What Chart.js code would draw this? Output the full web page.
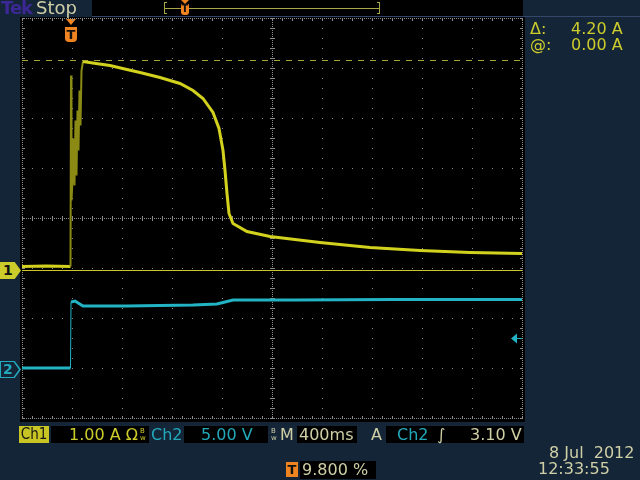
<!DOCTYPE html>
<html>
<head>
<meta charset="utf-8">
<script src="https://cdn.jsdelivr.net/npm/chart.js@4.4.0/dist/chart.umd.min.js"></script>
<style>
  html, body { margin: 0; padding: 0; background: #152538; }
  #scope { position: relative; width: 640px; height: 480px; overflow: hidden; background: #152538;
           font-family: "DejaVu Sans", sans-serif; }
  #scope canvas { position: absolute; left: 0; top: 0; }
  .t { position: absolute; white-space: nowrap; line-height: 1; }
  .box { position: absolute; background: #000; }
  .yel { color: #cccc2a; }
  .cya { color: #22aabb; }
  .kha { color: #cfcfa6; }
</style>
</head>
<body>
<div id="scope">
  <canvas id="grafico" width="640" height="480"></canvas>

  <!-- barra de cima -->
  <div class="t" style="left:1px;top:-1px;font-size:18px;font-weight:bold;color:#3b2894;letter-spacing:-1px;">Tek</div>
  <div class="t kha" style="left:36px;top:-1px;font-size:18px;">Stop</div>
  <div class="t" style="left:181px;top:4px;width:8px;height:11px;background:#f08420;color:#111;font-size:10px;font-weight:bold;text-align:center;border-radius:0 0 3px 3px;">T</div>

  <!-- marcador de trigger -->
  <div class="t" style="left:65px;top:27px;width:12px;height:15px;background:#f08420;color:#111;font-size:13px;font-weight:bold;text-align:center;line-height:15px;border-radius:0 0 4px 4px;">T</div>

  <!-- cursores -->
  <div class="t yel" style="left:530px;top:21px;font-size:16px;">Δ:</div>
  <div class="t yel" style="left:571px;top:21px;font-size:16px;">4.20 A</div>
  <div class="t yel" style="left:530px;top:37px;font-size:16px;">@:</div>
  <div class="t yel" style="left:571px;top:37px;font-size:16px;">0.00 A</div>

  <!-- marcadores de canal -->
  <div class="t" style="left:0px;top:262px;width:21px;height:17px;background:#cccc2a;clip-path:polygon(0 0,70% 0,100% 50%,70% 100%,0 100%);color:#111;font-size:14px;font-weight:bold;line-height:17px;padding-left:3px;box-sizing:border-box;">1</div>
  <div class="t" style="left:0px;top:361px;width:21px;height:17px;background:#22aabb;clip-path:polygon(0 0,70% 0,100% 50%,70% 100%,0 100%);"></div>
  <div class="t" style="left:1px;top:362px;width:18px;height:15px;background:#152538;clip-path:polygon(0 0,70% 0,100% 50%,70% 100%,0 100%);"></div>
  <div class="t cya" style="left:3px;top:362px;font-size:14px;font-weight:bold;line-height:15px;">2</div>

  <!-- barra de baixo -->
  <div class="t" style="left:19px;top:426px;width:30px;height:17px;background:#c8c424;color:#151515;font-size:15px;line-height:17px;text-align:center;font-family:'DejaVu Sans Condensed','DejaVu Sans',sans-serif;">Ch1</div>
  <div class="box" style="left:51px;top:426px;width:98px;height:17px;"></div>
  <div class="t yel" style="left:69px;top:427px;font-size:16px;">1.00 A Ω</div>
  <div class="t yel" style="left:140px;top:428px;font-size:7px;line-height:7px;">B<br>w</div>
  <div class="t cya" style="left:151px;top:427px;font-size:16px;">Ch2</div>
  <div class="box" style="left:184px;top:426px;width:84px;height:17px;"></div>
  <div class="t cya" style="left:201px;top:427px;font-size:16px;">5.00 V</div>
  <div class="t kha" style="left:271px;top:428px;font-size:7px;line-height:7px;">B<br>w</div>
  <div class="t kha" style="left:280px;top:427px;font-size:16px;">M</div>
  <div class="box" style="left:297px;top:426px;width:60px;height:17px;"></div>
  <div class="t kha" style="left:299px;top:427px;font-size:16px;">400ms</div>
  <div class="t kha" style="left:371px;top:427px;font-size:16px;">A</div>
  <div class="box" style="left:386px;top:426px;width:138px;height:17px;"></div>
  <div class="t cya" style="left:397px;top:427px;font-size:16px;">Ch2</div>
  <div class="t kha" style="left:437px;top:427px;font-size:16px;">∫</div>
  <div class="t kha" style="left:470px;top:427px;font-size:16px;">3.10 V</div>

  <div class="t kha" style="left:549px;top:445px;font-size:16px;">8 Jul&nbsp;&nbsp;2012</div>
  <div class="t kha" style="left:538px;top:461px;font-size:16px;">12:33:55</div>

  <div class="t" style="left:286px;top:462px;width:12px;height:15px;background:#f08420;color:#111;font-size:13px;font-weight:bold;text-align:center;line-height:15px;">T</div>
  <div class="box" style="left:300px;top:461px;width:76px;height:18px;"></div>
  <div class="t kha" style="left:302px;top:462px;font-size:16px;">9.800 %</div>
</div>

<script>
// Canal 1 (corrente, A) - tempo em segundos relativo ao trigger
const ch1Tempo = [-0.392, -0.20, -0.004, 0, 0.004, 0.012, 0.02, 0.028, 0.036, 0.044, 0.052, 0.06, 0.068, 0.076, 0.084,
                  0.096, 0.20, 0.312, 0.43, 0.552, 0.712, 0.872, 0.976, 1.056, 1.136, 1.184, 1.216, 1.232,
                  1.248, 1.264, 1.296, 1.408, 1.592, 1.992, 2.392, 2.792, 3.192, 3.608];
const ch1Amps  = [0.08, 0.09, 0.08, 3.9, 1.4, 1.8, 2.64, 1.7, 3.0, 1.9, 3.2, 2.4, 3.6, 2.9, 4.0,
                  4.18, 4.14, 4.10, 4.03, 3.96, 3.86, 3.74, 3.60, 3.44, 3.16, 2.84, 2.40, 2.00,
                  1.54, 1.14, 0.94, 0.78, 0.68, 0.56, 0.46, 0.40, 0.36, 0.34];

// Canal 2 (tensão, V)
const ch2Tempo = [-0.392, -0.004, 0, 0.032, 0.096, 0.448, 0.976, 1.168, 1.232, 1.296, 1.776, 2.576, 3.608];
const ch2Volts = [0.1, 0.1, 6.7, 6.8, 6.3, 6.3, 6.4, 6.5, 6.7, 6.9, 6.9, 6.95, 6.95];

// escalas (10 x 8 divisões)
const tempoMin = -0.392, tempoMax = 3.608;   // 400 ms/div, trigger em 9.8 %
const ch1Min = -2.95, ch1Max = 5.05;          // 1.00 A/div
const ch2Min = -4.9, ch2Max = 35.1;           // 5.00 V/div
const cursores = [4.20, 0.00];                // A
const nivelTrigger = 3.10;                    // V, Ch2

const AMARELO = '#d2d21e';
const OLIVA = '#8a8a14';
const CIANO = '#22b4c4';

const fundo = {
    id: 'fundo',
    beforeDraw(chart) {
        const ctx = chart.ctx;
        ctx.save();
        ctx.fillStyle = '#152538';
        ctx.fillRect(0, 0, 640, 480);
        ctx.fillStyle = '#000';
        ctx.fillRect(20, 17, 505, 405);
        // barra superior
        ctx.fillRect(92, 0, 431, 16);
        ctx.fillStyle = '#34466a';
        ctx.fillRect(92, 16, 548, 1);
        ctx.strokeStyle = '#a8a848';
        ctx.lineWidth = 1;
        ctx.beginPath();
        ctx.moveTo(164.5, 2); ctx.lineTo(164.5, 14);
        ctx.moveTo(164, 2.5); ctx.lineTo(167, 2.5);
        ctx.moveTo(164, 13.5); ctx.lineTo(167, 13.5);
        ctx.moveTo(379.5, 2); ctx.lineTo(379.5, 14);
        ctx.moveTo(380, 2.5); ctx.lineTo(377, 2.5);
        ctx.moveTo(380, 13.5); ctx.lineTo(377, 13.5);
        ctx.moveTo(165, 8.5); ctx.lineTo(379, 8.5);
        ctx.stroke();
        ctx.fillStyle = '#f08420';
        ctx.beginPath();
        ctx.moveTo(181, 0); ctx.lineTo(189, 0); ctx.lineTo(185, 4); ctx.closePath();
        ctx.fill();
        // seta do trigger
        ctx.beginPath();
        ctx.moveTo(66, 19); ctx.lineTo(76, 19); ctx.lineTo(71, 25); ctx.closePath();
        ctx.fill();
        ctx.restore();
    },
    beforeDatasetsDraw(chart) {
        const ctx = chart.ctx;
        const { left, top, right, bottom } = chart.chartArea;
        const dx = (right - left) / 10, dy = (bottom - top) / 8;
        const cx = left + 5 * dx, cy = top + 4 * dy;
        ctx.save();
        ctx.fillStyle = '#8c8c8c';
        // linhas internas
        for (let i = 1; i < 10; i++) {
            if (i === 5) continue;
            const x = Math.round(left + i * dx);
            for (let y = top; y <= bottom; y += dy / 5) ctx.fillRect(x, Math.round(y), 1, 1);
        }
        for (let j = 1; j < 8; j++) {
            if (j === 4) continue;
            const y = Math.round(top + j * dy);
            for (let x = left; x <= right; x += dx / 5) ctx.fillRect(Math.round(x), y, 1, 1);
        }
        // eixos centrais
        for (let y = top; y <= bottom; y += 2) ctx.fillRect(Math.round(cx), Math.round(y), 1, 1);
        for (let x = left; x <= right; x += 2) ctx.fillRect(Math.round(x), Math.round(cy), 1, 1);
        for (let y = top; y <= bottom; y += dy / 5) ctx.fillRect(Math.round(cx) - 2, Math.round(y), 5, 1);
        for (let x = left; x <= right; x += dx / 5) ctx.fillRect(Math.round(x), Math.round(cy) - 2, 1, 5);
        // moldura
        for (let x = left; x <= right; x += 2) {
            ctx.fillRect(Math.round(x), top, 1, 1);
            ctx.fillRect(Math.round(x), bottom, 1, 1);
        }
        for (let y = top; y <= bottom; y += 2) {
            ctx.fillRect(left, Math.round(y), 1, 1);
            ctx.fillRect(right, Math.round(y), 1, 1);
        }
        for (let x = left; x <= right; x += dx / 5) {
            ctx.fillRect(Math.round(x), top, 1, 3);
            ctx.fillRect(Math.round(x), bottom - 2, 1, 3);
        }
        for (let y = top; y <= bottom; y += dy / 5) {
            ctx.fillRect(left, Math.round(y), 3, 1);
            ctx.fillRect(right - 2, Math.round(y), 3, 1);
        }
        ctx.restore();
    },
    afterDatasetsDraw(chart) {
        // seta do nível de trigger (Ch2)
        const ctx = chart.ctx;
        const y = Math.round(chart.scales.y2.getPixelForValue(nivelTrigger)) + 0.5;
        const r = chart.chartArea.right;
        ctx.save();
        ctx.fillStyle = CIANO;
        ctx.strokeStyle = CIANO;
        ctx.beginPath();
        ctx.moveTo(r - 11, y); ctx.lineTo(r - 5, y - 5); ctx.lineTo(r - 5, y + 5); ctx.closePath();
        ctx.fill();
        ctx.beginPath();
        ctx.moveTo(r - 5, y); ctx.lineTo(r, y);
        ctx.stroke();
        ctx.restore();
    }
};

const ctx = document.getElementById('grafico');
new Chart(ctx, {
    type: 'line',
    data: {
        datasets: [
            {
                label: 'Cursor Δ',
                yAxisID: 'y1',
                data: [{ x: tempoMin, y: cursores[0] }, { x: tempoMax, y: cursores[0] }],
                borderColor: '#a8a838',
                borderWidth: 1,
                borderDash: [6, 6],
                pointRadius: 0
            },
            {
                label: 'Cursor @',
                yAxisID: 'y1',
                data: [{ x: tempoMin, y: cursores[1] }, { x: tempoMax, y: cursores[1] }],
                borderColor: '#c8c82a',
                borderWidth: 1,
                pointRadius: 0
            },
            {
                label: 'Ch2',
                yAxisID: 'y2',
                data: ch2Tempo.map((t, i) => ({ x: t, y: ch2Volts[i] })),
                borderColor: CIANO,
                borderWidth: 3,
                pointRadius: 0,
                tension: 0,
                segment: {
                    borderWidth: s => (s.p0.parsed.x === -0.004 ? 1 : 3)
                }
            },
            {
                label: 'Ch1',
                yAxisID: 'y1',
                data: ch1Tempo.map((t, i) => ({ x: t, y: ch1Amps[i] })),
                borderColor: AMARELO,
                borderWidth: 3,
                pointRadius: 0,
                tension: 0,
                segment: {
                    // rajada inicial fica mais escura e fina
                    borderColor: s => (s.p0.parsed.x >= -0.004 && s.p1.parsed.x <= 0.096 ? OLIVA : AMARELO),
                    borderWidth: s => (s.p0.parsed.x >= -0.004 && s.p1.parsed.x <= 0.096 ? 2 : 3)
                }
            }
        ]
    },
    options: {
        responsive: false,
        animation: false,
        devicePixelRatio: 1,
        events: [],
        layout: { padding: { left: 22, top: 18, right: 118, bottom: 62 } },
        plugins: {
            legend: { display: false },
            tooltip: { enabled: false }
        },
        scales: {
            x: { type: 'linear', min: tempoMin, max: tempoMax, display: false },
            y1: { type: 'linear', min: ch1Min, max: ch1Max, display: false },
            y2: { type: 'linear', min: ch2Min, max: ch2Max, display: false }
        }
    },
    plugins: [fundo]
});
</script>
</body>
</html>
